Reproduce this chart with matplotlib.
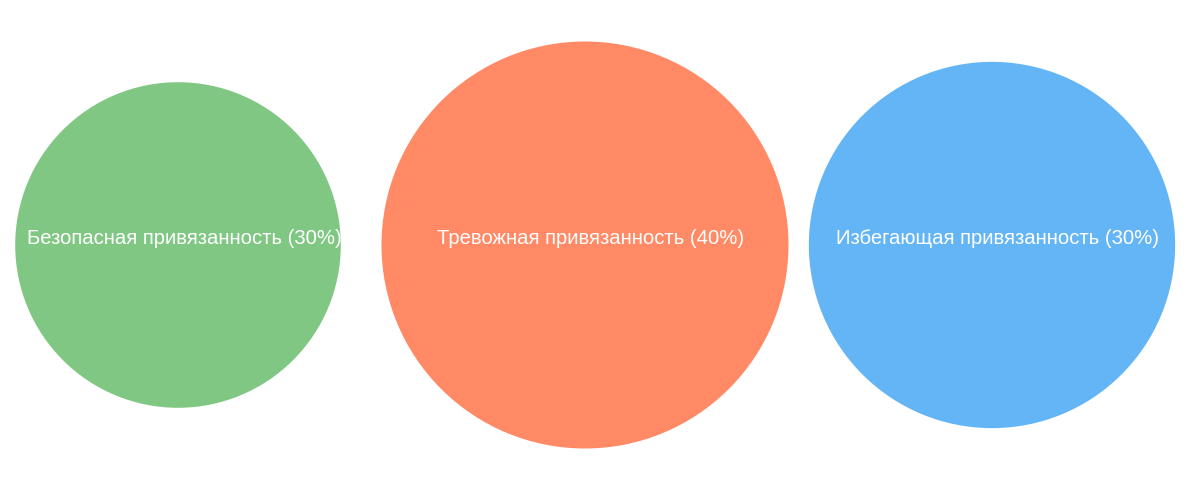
import matplotlib
matplotlib.use("Agg")
import matplotlib.pyplot as plt
from matplotlib.patches import Circle

plt.rcParams["font.family"] = ["Liberation Sans", "DejaVu Sans"]

# Data
labels = ["Безопасная привязанность", "Тревожная привязанность", "Избегающая привязанность"]
shares = [30, 40, 30]
bubble_size = [80, 100, 90]
colors = ["#81C784", "#FF8A65", "#64B5F6"]

W, H = 1200, 501
fig = plt.figure(figsize=(W / 100, H / 100), dpi=100)
ax = fig.add_axes([0, 0, 1, 1])
ax.set_xlim(0, W)
ax.set_ylim(H, 0)
ax.set_aspect("equal")
ax.axis("off")

# layout in pixels
x0, step, cy = 178, 407, 245
scale = 2.035

for i, (lab, pct, size, col) in enumerate(zip(labels, shares, bubble_size, colors)):
    cx = x0 + step * i
    ax.add_patch(Circle((cx, cy), size * scale, color=col, lw=0))
    ax.text(cx + 6, cy - 6, f"{lab} ({pct}%)", color="white", fontsize=14.6,
            ha="center", va="center")

fig.savefig("out.png", dpi=100)
